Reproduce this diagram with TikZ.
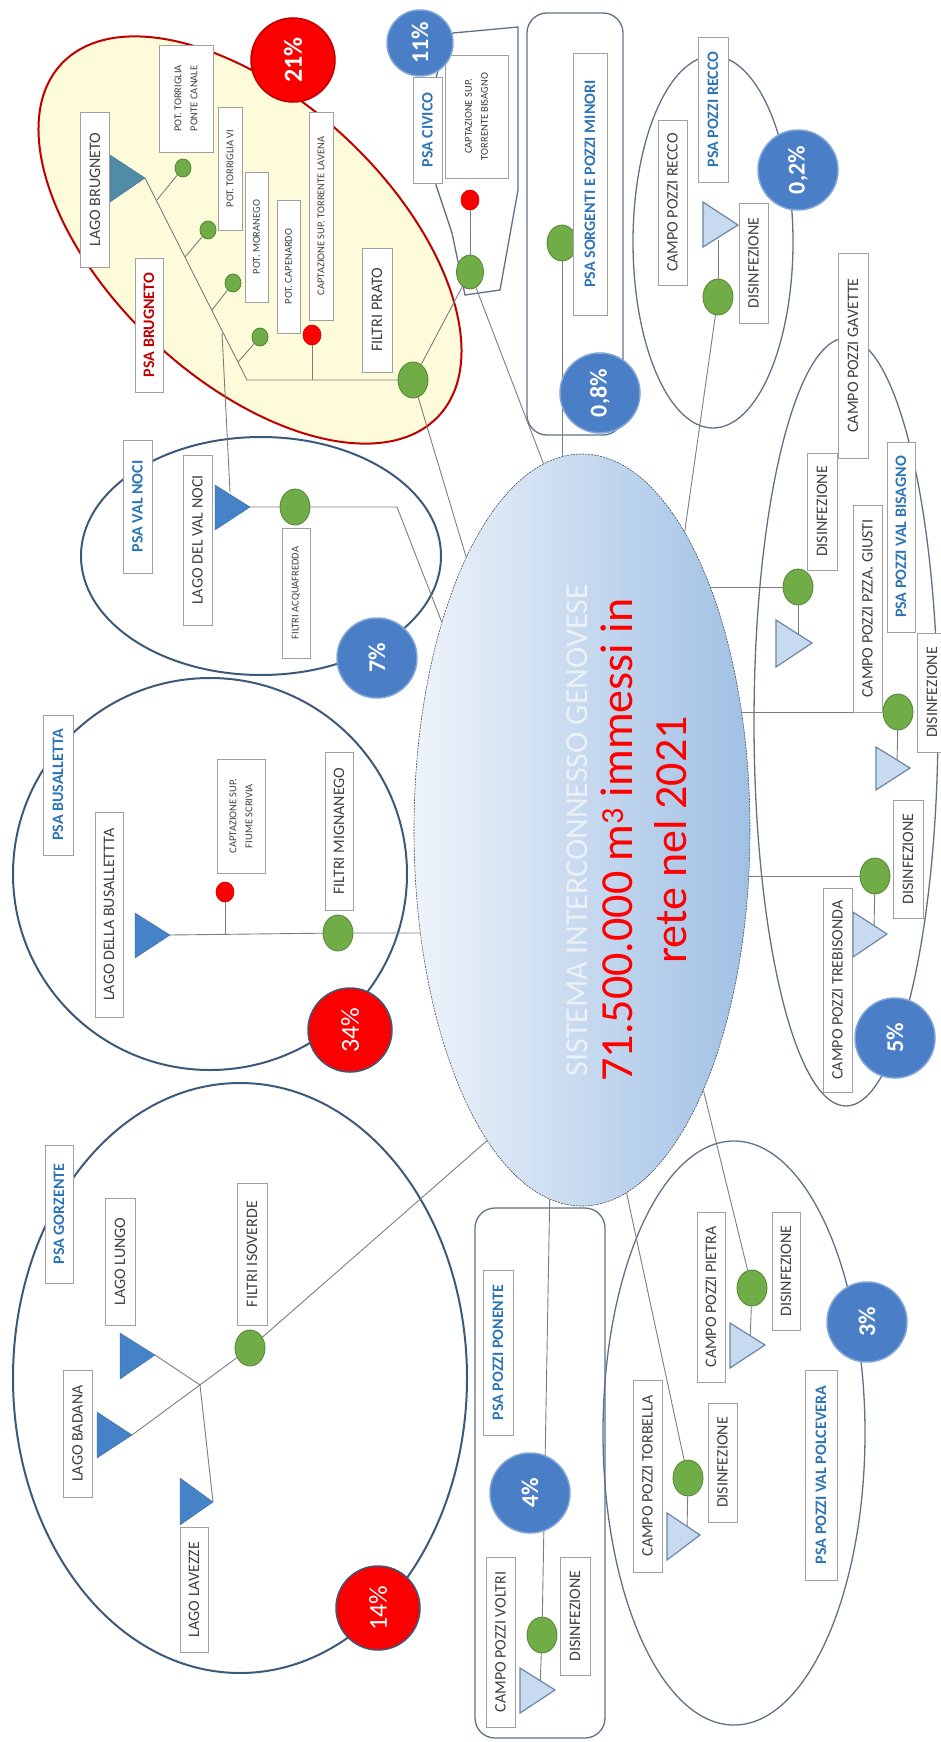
\documentclass[tikz,border=0pt]{standalone}
\usepackage{fontspec}
\setmainfont{Carlito}
\usepackage{xcolor}
\usetikzlibrary{shapes.geometric,calc}

\definecolor{txt}{RGB}{64,64,64}
\definecolor{boxline}{RGB}{160,160,160}
\definecolor{psablue}{RGB}{46,117,182}
\definecolor{brugred}{RGB}{192,0,0}
\definecolor{brugfill}{RGB}{253,251,218}
\definecolor{ellline}{RGB}{60,90,120}
\definecolor{thinline}{RGB}{95,113,135}
\definecolor{linegray}{RGB}{125,125,125}
\definecolor{bubblue}{RGB}{74,126,198}
\definecolor{bubred}{RGB}{250,0,0}
\definecolor{greenfill}{RGB}{112,173,71}
\definecolor{greenline}{RGB}{84,130,53}
\definecolor{lakeblue}{RGB}{70,130,200}
\definecolor{laketeal}{RGB}{80,140,165}
\definecolor{wellfill}{RGB}{200,218,240}
\definecolor{wellline}{RGB}{106,134,168}
\definecolor{syslight}{RGB}{238,243,250}
\definecolor{sysmid}{RGB}{196,215,238}
\definecolor{sysdark}{RGB}{160,192,228}
\definecolor{sysline}{RGB}{70,80,95}
\definecolor{systxt}{RGB}{236,241,247}

\tikzset{
  box/.style={draw=boxline, fill=white, rotate=90, text=txt, inner sep=1pt,
    minimum height=29pt, font=\fontsize{16}{18}\selectfont},
  smallbox/.style={box, align=center, font=\fontsize{10.5}{16}\selectfont},
  psa/.style={box, text=psablue, font=\fontsize{16}{18}\selectfont\bfseries},
  filtro/.style={ellipse, draw=greenline, fill=greenfill, line width=0.8pt,
    minimum width=30pt, minimum height=36pt, inner sep=0pt},
  pot/.style={filtro, minimum width=16pt, minimum height=18pt},
  presa/.style={ellipse, draw=brugred, fill=red, line width=0.6pt,
    minimum width=18pt, minimum height=20pt, inner sep=0pt},
  conn/.style={draw=linegray, line width=0.9pt},
  psaline/.style={draw=ellline, line width=2pt},
  psathin/.style={draw=thinline, line width=1.3pt},
  lake/.style={fill=lakeblue, draw=lakeblue!80!black, line width=0.4pt},
  well/.style={fill=wellfill, draw=wellline, line width=1.2pt},
  pctred/.style={circle, fill=bubred, draw=ellline, line width=1.5pt, text=white,
    rotate=90, minimum size=84pt, inner sep=0pt, font=\fontsize{26}{26}\selectfont},
  pctblue/.style={circle, fill=bubblue, draw=bubblue!70!white, line width=1.5pt,
    text=white, rotate=90, minimum size=80pt, inner sep=0pt,
    font=\fontsize{24}{24}\selectfont\bfseries}
}

\begin{document}
\begin{tikzpicture}[x=1pt,y=-1pt]
    \useasboundingbox (0,0) rectangle (940,1742);

    % =====================
    % Group outlines
    % =====================
    \draw[draw=brugred, line width=2pt, fill=brugfill, rotate around={-43:(250,240)}]
        (250,240) ellipse [x radius=258, y radius=140];
    \draw[psaline] (261,556) ellipse [x radius=180, y radius=119];
    \draw[psaline] (210,874) ellipse [x radius=197, y radius=196];
    \draw[psaline] (240,1378) ellipse [x radius=227, y radius=295];
    \draw[psathin] (713,242) ellipse [x radius=80, y radius=186];
    \draw[psathin] (846,722) ellipse [x radius=92, y radius=384];
    \draw[psathin] (734,1433) ellipse [x radius=131, y radius=292];
    \draw[psathin, rounded corners=20pt] (527,13) rectangle (623,435);
    \draw[psathin, rounded corners=20pt] (475,1208) rectangle (605,1738);
    \draw[psathin] (453,33) -- (518,27) -- (518,190) -- (500,290) -- (465,295)
        -- (452,233) -- (436,185) -- (436,78) -- (445,45) -- cycle;

    % central system
    \node[ellipse, minimum width=336pt, minimum height=752pt, inner sep=0pt,
          left color=syslight, middle color=sysmid, right color=sysdark,
          draw=sysline, line width=0.6pt, dash pattern=on 2pt off 1pt] (sys) at (582,830) {};
    \node[rotate=90, text=systxt, font=\fontsize{32}{36}\selectfont] (sysname) at (577,830)
        {SISTEMA INTERCONNESSO GENOVESE};
    \node[rotate=90, align=center, text=red, font=\fontsize{46}{54}\selectfont] (sysvol) at (644,840)
        {71.500.000 m\textsuperscript{3} immessi in\\rete nel 2021};

    % =====================
    % Junction points
    % =====================
    \coordinate (tBrug) at (145,178);
    \coordinate (bCorner) at (247,380);
    \coordinate (jB1) at (157,200);
    \coordinate (jB2) at (185,257);
    \coordinate (jB3) at (212,310);
    \coordinate (jB4) at (238,362);
    \coordinate (jNoci) at (222,333);
    \coordinate (jLav) at (312,380);
    \coordinate (tNoci) at (250,507);
    \coordinate (kNoci) at (397,507);
    \coordinate (tBus) at (170,935);
    \coordinate (jScr) at (225,935);
    \coordinate (tLungo) at (155,1355);
    \coordinate (tBadana) at (132,1435);
    \coordinate (tLavezze) at (213,1502);
    \coordinate (jGorz) at (200,1385);
    \coordinate (tRecco) at (738,225);
    \coordinate (tGiusti) at (812,643);
    \coordinate (tGiusti2) at (910,768);
    \coordinate (tTreb) at (887,934);
    \coordinate (tVoltri) at (555,1690);
    \coordinate (tPietra) at (765,1345);
    \coordinate (tTorb) at (700,1535);

    % =====================
    % Filters and intakes
    % =====================
    \node[pot] (potTpc) at (183,168) {};
    \node[pot] (potTvi) at (208,230) {};
    \node[pot] (potMor) at (233,283) {};
    \node[pot] (potCap) at (260,337) {};
    \node[presa] (prLav) at (312,335) {};
    \node[filtro] (prato) at (413,380) {};
    \node[presa] (prBis) at (470,200) {};
    \node[filtro, minimum width=27pt, minimum height=34pt] (civico) at (470,272) {};
    \node[filtro] (sorg) at (562,243) {};
    \node[filtro] (acqua) at (295,507) {};
    \node[presa] (prScr) at (225,892) {};
    \node[filtro] (mign) at (338,933) {};
    \node[filtro] (iso) at (250,1348) {};
    \node[filtro] (recco) at (718,297) {};
    \node[filtro] (giusti) at (798,587) {};
    \node[filtro] (giusti2) at (898,712) {};
    \node[filtro] (treb) at (875,876) {};
    \node[filtro] (voltri) at (542,1635) {};
    \node[filtro] (pietra) at (752,1288) {};
    \node[filtro] (torb) at (688,1478) {};

    % =====================
    % Connectors
    % =====================
    \draw[conn] (tBrug) -- (bCorner) -- (jLav) -- (prato);
    \draw[conn] (jB1) -- (potTpc);
    \draw[conn] (jB2) -- (potTvi);
    \draw[conn] (jB3) -- (potMor);
    \draw[conn] (jB4) -- (potCap);
    \draw[conn] (jLav) -- (prLav);
    \draw[conn] (jNoci) -- (230,492);
    \draw[conn] (prato) -- (civico);
    \draw[conn] (prato) -- (sys.113.4);
    \draw[conn] (prBis) -- (civico);
    \draw[conn] (civico) -- (sys.96.8);
    \draw[conn] (sorg) -- (sorg |- sys.93.1);
    \draw[conn] (tNoci) -- (acqua) -- (kNoci) -- (sys.124.9);
    \draw[conn] (tBus) -- (mign) -- (mign -| sys.212.5);
    \draw[conn] (jScr) -- (prScr);
    \draw[conn] (tBadana) -- (iso) -- (sys.253.6);
    \draw[conn] (tLungo) -- (jGorz) -- (tLavezze);
    \draw[conn] (recco) -- (sys.71.6);
    \draw[conn] (recco) -- (718,240);
    \draw[conn] (giusti) -- (giusti -| sys.62.2);
    \draw[conn] (giusti) -- (798,640);
    \draw[conn] (giusti2) -- (giusti2 -| sys.36.5);
    \draw[conn] (giusti2) -- (897,765);
    \draw[conn] (treb) -- (treb -| sys.-15.4);
    \draw[conn] (treb) -- (874,930);
    \draw[conn] (sys.265) -- (voltri);
    \draw[conn] (voltri) -- (540,1688);
    \draw[conn] (pietra) -- (sys.-65);
    \draw[conn] (pietra) -- (750,1342);
    \draw[conn] (sys.-83.6) -- (torb);
    \draw[conn] (torb) -- (687,1532);

    % =====================
    % Lakes and wells
    % =====================
    \draw[lake, fill=laketeal] (tBrug) -- ++(-35,-23) -- ++(0,47) -- cycle;
    \draw[lake] (tNoci) -- ++(-35,-22) -- ++(0,45) -- cycle;
    \draw[lake] (tBus) -- ++(-35,-22) -- ++(0,45) -- cycle;
    \draw[lake] (tLungo) -- ++(-35,-22) -- ++(0,46) -- cycle;
    \draw[lake] (tBadana) -- ++(-35,-23) -- ++(0,46) -- cycle;
    \draw[lake] (tLavezze) -- ++(-33,-24) -- ++(0,47) -- cycle;
    \draw[well] (tRecco) -- ++(-35,-23) -- ++(0,45) -- cycle;
    \draw[well] (tGiusti) -- ++(-36,-23) -- ++(0,47) -- cycle;
    \draw[well] (tGiusti2) -- ++(-34,-21) -- ++(0,43) -- cycle;
    \draw[well] (tTreb) -- ++(-34,-22) -- ++(0,45) -- cycle;
    \draw[well] (tVoltri) -- ++(-35,-22) -- ++(0,45) -- cycle;
    \draw[well] (tPietra) -- ++(-35,-22) -- ++(0,45) -- cycle;
    \draw[well] (tTorb) -- ++(-33,-22) -- ++(0,47) -- cycle;

    % =====================
    % Labels
    % =====================
    % Brugneto
    \node[box, minimum width=155pt] (lagoBrug) at (95,189.5) {LAGO BRUGNETO};
    \node[smallbox, minimum width=107pt, minimum height=54pt] (bTpc) at (186,98.5) {POT. TORRIGLIA\\PONTE CANALE};
    \node[smallbox, minimum width=123pt, minimum height=24pt] (bTvi) at (230,168.5) {POT. TORRIGLIA VI};
    \node[smallbox, minimum width=130pt, minimum height=23pt] (bMor) at (256.5,237) {POT. MORANEGO};
    \node[smallbox, minimum width=133pt, minimum height=23pt] (bCap) at (288.5,266.5) {POT. CAPENARDO};
    \node[smallbox, minimum width=208pt, minimum height=24pt] (bLav) at (321,216) {CAPTAZIONE SUP. TORRENTE LAVENA};
    \node[box, minimum width=124pt, minimum height=30pt] (bPrato) at (377,310) {FILTRI PRATO};
    \node[psa, text=brugred, minimum width=134pt, minimum height=28pt] (psaBrug) at (149,325) {PSA BRUGNETO};
    % Civico
    \node[psa, minimum width=106pt, minimum height=29pt] (psaCiv) at (427.5,130) {PSA CIVICO};
    \node[smallbox, minimum width=123pt, minimum height=63pt] (bBis) at (476.5,116.5) {CAPTAZIONE SUP.\\TORRENTE BISAGNO};
    % Sorgenti
    \node[psa, minimum width=262pt, minimum height=34pt] (psaSorg) at (590,184) {PSA SORGENTI E POZZI MINORI};
    % Recco
    \node[psa, minimum width=145pt, minimum height=30pt] (psaRecco) at (713,109.5) {PSA POZZI RECCO};
    \node[box, minimum width=165pt] (bRecco) at (672.5,202.5) {CAMPO POZZI RECCO};
    \node[box, minimum width=120pt] (dRecco) at (753.5,263) {DISINFEZIONE};
    % Val Bisagno
    \node[box, minimum width=205pt, minimum height=30pt] (bGav) at (853,355.5) {CAMPO POZZI GAVETTE};
    \node[psa, minimum width=190pt, minimum height=28pt] (psaBis) at (901,537) {PSA POZZI VAL BISAGNO};
    \node[box, minimum width=117pt, minimum height=30pt] (dGiusti) at (822,511.5) {DISINFEZIONE};
    \node[box, minimum width=207pt] (bGiusti) at (867.5,608.5) {CAMPO POZZI PZZA. GIUSTI};
    \node[box, minimum width=119pt, minimum height=30pt] (dGiusti2) at (932,692.5) {DISINFEZIONE};
    \node[box, minimum width=118pt, minimum height=30pt] (dTreb) at (908,859) {DISINFEZIONE};
    \node[box, minimum width=204pt] (bTreb) at (837.5,990) {CAMPO POZZI TREBISONDA};
    % Val Noci
    \node[psa, minimum width=133pt] (psaNoci) at (137.5,506.5) {PSA VAL NOCI};
    \node[box, minimum width=170pt] (lagoNoci) at (197.5,540) {LAGO DEL VAL NOCI};
    \node[smallbox, minimum width=130pt, minimum height=28pt] (bAcqua) at (296,593) {FILTRI ACQUAFREDDA};
    % Busalletta
    \node[psa, minimum width=140pt, minimum height=30pt] (psaBus) at (58,785) {PSA BUSALLETTA};
    \node[box, minimum width=205pt, minimum height=28pt] (lagoBus) at (109,914.5) {LAGO DELLA BUSALLETTTA};
    \node[smallbox, minimum width=114pt, minimum height=48pt] (bScr) at (241,816) {CAPTAZIONE SUP.\\FIUME SCRIVIA};
    \node[box, minimum width=158pt, minimum height=28pt] (bMign) at (339,831) {FILTRI MIGNANEGO};
    % Gorzente
    \node[psa, minimum width=138pt, minimum height=28pt] (psaGorz) at (59,1214) {PSA GORZENTE};
    \node[box, minimum width=127pt, minimum height=30pt] (lagoLungo) at (120,1261.5) {LAGO LUNGO};
    \node[box, minimum width=142pt, minimum height=30pt] (bIso) at (252,1254) {FILTRI ISOVERDE};
    \node[box, minimum width=127pt] (lagoBad) at (77.5,1433.5) {LAGO BADANA};
    \node[box, minimum width=125pt, minimum height=28pt] (lagoLav) at (194,1589.5) {LAGO LAVEZZE};
    % Ponente
    \node[psa, minimum width=165pt, minimum height=30pt] (psaPon) at (498,1352.5) {PSA POZZI PONENTE};
    \node[box, minimum width=170pt] (bVoltri) at (500.5,1642) {CAMPO POZZI VOLTRI};
    \node[box, minimum width=118pt, minimum height=30pt] (dVoltri) at (575,1616) {DISINFEZIONE};
    % Polcevera
    \node[psa, minimum width=210pt, minimum height=32pt] (psaPolc) at (821,1475) {PSA POZZI VAL POLCEVERA};
    \node[box, minimum width=170pt, minimum height=28pt] (bPietra) at (711,1297) {CAMPO POZZI PIETRA};
    \node[box, minimum width=118pt, minimum height=28pt] (dPietra) at (786,1271) {DISINFEZIONE};
    \node[box, minimum width=192pt] (bTorb) at (647.5,1476) {CAMPO POZZI TORBELLA};
    \node[box, minimum width=119pt] (dTorb) at (722.5,1462.5) {DISINFEZIONE};

    % =====================
    % Shares
    % =====================
    \node[pctred, draw=brugred, font=\fontsize{26}{26}\selectfont\bfseries] (p21) at (293,60) {21\%};
    \node[pctblue, minimum size=66pt] (p11) at (420,43) {11\%};
    \node[pctblue] (p08) at (600,393) {0,8\%};
    \node[pctblue] (p02) at (798,170) {0,2\%};
    \node[pctblue] (p07) at (377,658) {7\%};
    \node[pctred] (p34) at (350,1030) {34\%};
    \node[pctblue] (p05) at (895,1038) {5\%};
    \node[pctred] (p14) at (378,1608) {14\%};
    \node[pctblue] (p04) at (530,1493) {4\%};
    \node[pctblue] (p03) at (867,1322) {3\%};
\end{tikzpicture}
\end{document}
